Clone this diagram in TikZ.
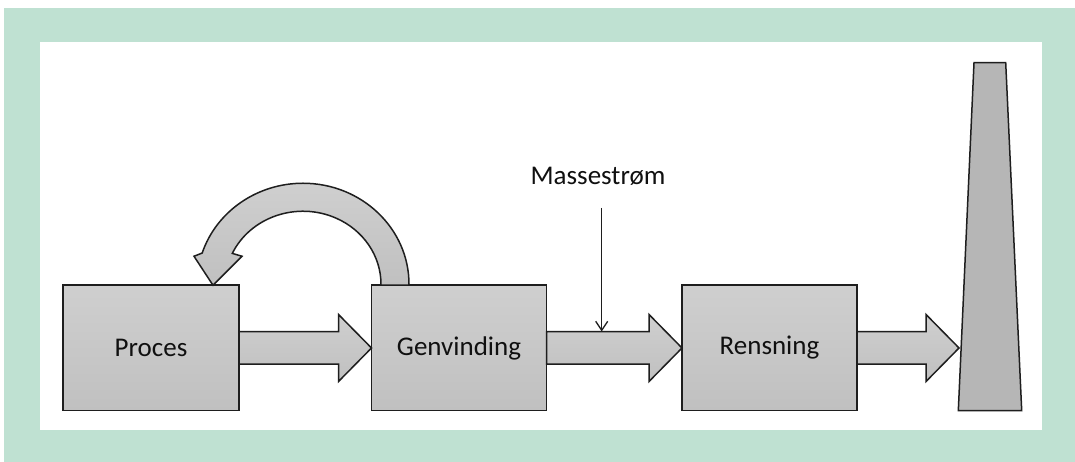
\documentclass[tikz,border=0pt]{standalone}
\usepackage{fontspec}
\setmainfont{Carlito}
\usetikzlibrary{calc,arrows.meta}

\definecolor{frame}{HTML}{BFE1D2}
\definecolor{ink}{HTML}{1E1E1E}
\definecolor{txt}{HTML}{101010}
\definecolor{graytop}{HTML}{CFCFCF}
\definecolor{graybot}{HTML}{C0C0C0}

\tikzset{
  unitbox/.style={draw=ink, line width=1.5pt, top color=graytop, bottom color=graybot,
    minimum height=125.5pt, inner sep=0pt, outer sep=0pt,
    font=\fontsize{27}{31}\selectfont, text=txt},
  blockarrow/.style={draw=ink, line width=1.5pt, line join=miter,
    top color=graytop, bottom color=graybot},
  stackshape/.style={draw=ink, line width=1.5pt, line join=miter, fill=graybot!95!black},
  thinarrow/.style={draw=ink, line width=1.3pt, -{Straight Barb[length=9pt,width=12pt]}},
  label/.style={font=\fontsize{27}{31}\selectfont, text=txt, inner sep=0pt}
}

% block arrow between two anchors: shaft half height 16.25, head half height 33.5, head length 33
\newcommand\blockarr[2]{%
  \path[blockarrow] let \p1=#1, \p2=#2 in
    (\x1,\y2+16.25pt) -- (\x2-33pt,\y2+16.25pt) -- (\x2-33pt,\y2+33.5pt) -- (\x2,\y2)
    -- (\x2-33pt,\y2-33.5pt) -- (\x2-33pt,\y2-16.25pt) -- (\x1,\y2-16.25pt) -- cycle;}

\begin{document}
\begin{tikzpicture}[x=1pt,y=1pt]
  \useasboundingbox (0,0) rectangle (1075,462);
  \fill[white] (0,0) rectangle (1075,462);
  % frame and white panel
  \fill[frame] (4,0) rectangle (1075,454);
  \fill[white] (40,32) rectangle (1042,420);

  % process units
  \node[unitbox, minimum width=176pt] (proc) at (151,114) {Proces};
  \node[unitbox, minimum width=175pt] (genv) at (459,114) {Genvinding};
  \node[unitbox, minimum width=175pt] (rens) at (769.5,114) {Rensning};

  % stack
  \path[stackshape] (958.3,51.3) -- (974,399.3) -- (1005.7,399.3) -- (1021.7,51.3) -- cycle;
  \coordinate (stack) at (959,114);

  % flow arrows
  \blockarr{(proc.east)}{(genv.west)}
  \blockarr{(genv.east)}{(rens.west)}
  \blockarr{(rens.east)}{(stack)}

  % recycle arrow from Genvinding back to Proces
  \path[blockarrow] let \p1=(genv.north west), \p2=(proc.north west) in
    (\x1+37.5pt,\y1) -- (\x1+37.5pt,\y1+1pt)
    arc[start angle=0, end angle=162, x radius=106pt, y radius=101pt]
    -- (\x2+131pt,\y2+29pt) -- (\x2+150pt,\y2) -- (\x2+179pt,\y2+29pt)
    -- (\x2+169.3pt,\y2+31.85pt)
    arc[start angle=155, end angle=0, x radius=78pt, y radius=73pt]
    -- (\x1+9.5pt,\y1) -- cycle;

  % mass flow measuring point
  \node[label] (mass) at (598,286) {Massestrøm};
  \coordinate (mtop) at (601.7,254);
  \coordinate (mbot) at (601.7,130.5);
  \draw[thinarrow] (mtop) -- (mbot);
\end{tikzpicture}
\end{document}
